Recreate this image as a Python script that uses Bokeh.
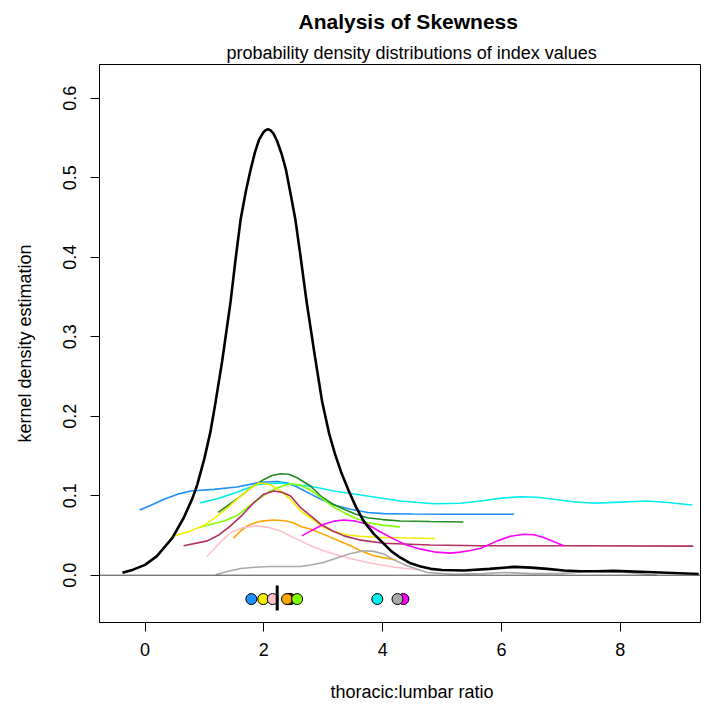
from bokeh.plotting import figure
from bokeh.models import Range1d, FixedTicker, Span, PrintfTickFormatter, Title, LinearAxis
from bokeh.embed import file_html
from bokeh.resources import INLINE

# ---------------- data ----------------
title = "Analysis of Skewness"
subtitle = "probability density distributions of index values"
x_label = "thoracic:lumbar ratio"
y_label = "kernel density estimation"
x_ticks = [0, 2, 4, 6, 8]
y_ticks = [0.0, 0.1, 0.2, 0.3, 0.4, 0.5, 0.6]

main_x = [-0.38, -0.2, 0.0, 0.2, 0.46, 0.65, 0.8, 0.88, 1.0, 1.1, 1.19, 1.3, 1.44, 1.52,
          1.61, 1.7, 1.78, 1.85, 1.92, 1.99, 2.03, 2.07, 2.11, 2.16, 2.22, 2.3, 2.37, 2.45,
          2.53, 2.62, 2.72, 2.85, 2.98, 3.1, 3.2, 3.3, 3.43, 3.55, 3.68, 3.85, 4.0, 4.15,
          4.3, 4.47, 4.64, 4.81, 5.0, 5.37, 5.8, 6.21, 6.5, 6.77, 7.05, 7.33, 7.6, 7.89,
          8.45, 9.32]
main_y = [0.003, 0.007, 0.013, 0.024, 0.047, 0.072, 0.097, 0.114, 0.147, 0.18, 0.219, 0.27,
          0.344, 0.395, 0.448, 0.484, 0.511, 0.532, 0.548, 0.557, 0.56, 0.561, 0.56, 0.556,
          0.547, 0.53, 0.511, 0.48, 0.448, 0.40, 0.344, 0.28, 0.219, 0.178, 0.152, 0.13,
          0.106, 0.086, 0.068, 0.052, 0.041, 0.03, 0.022, 0.015, 0.011, 0.008, 0.0065,
          0.006, 0.008, 0.0105, 0.0095, 0.008, 0.006, 0.005, 0.005, 0.0055, 0.004, 0.0015]

names = ["dodgerblue", "cyan", "forestgreen", "chartreuse", "yellow", "maroon",
         "orange", "pink", "magenta", "darkgray"]
colors = ["#1E90FF", "#00EEEE", "#228B22", "#7FFF00", "#F2EE00", "#B03060",
          "#FFA500", "#FFC0CB", "#FF00FF", "#A9A9A9"]

blue_x = [-0.09, 0.1, 0.32, 0.55, 0.77, 1.16, 1.55, 1.94, 2.22, 2.4, 2.56, 2.79, 2.96, 3.2, 3.46, 3.75, 4.02, 4.5, 5.0, 5.65, 6.21]
blue_y = [0.082, 0.088, 0.0955, 0.102, 0.106, 0.108, 0.111, 0.117, 0.118, 0.116, 0.111, 0.102, 0.0955, 0.088, 0.083, 0.079, 0.0775, 0.077, 0.0767, 0.0767, 0.0767]
cyan_x = [0.93, 1.2, 1.44, 1.89, 2.28, 2.62, 2.79, 3.18, 3.74, 4.30, 4.86, 5.3, 5.65, 6.0, 6.32, 6.6, 6.88, 7.2, 7.56, 8.0, 8.45, 8.8, 9.21]
cyan_y = [0.091, 0.096, 0.1017, 0.114, 0.116, 0.113, 0.112, 0.106, 0.0996, 0.0934, 0.090, 0.0905, 0.0934, 0.097, 0.0988, 0.098, 0.0955, 0.0925, 0.0905, 0.092, 0.0934, 0.0915, 0.0883]
fgreen_x = [1.23, 1.42, 1.61, 1.8, 2.0, 2.14, 2.28, 2.42, 2.56, 2.79, 2.96, 3.15, 3.35, 3.54, 3.74, 4.0, 4.30, 4.8, 5.36]
fgreen_y = [0.079, 0.089, 0.0996, 0.111, 0.1205, 0.1255, 0.1276, 0.127, 0.1226, 0.112, 0.0996, 0.09, 0.083, 0.077, 0.0724, 0.07, 0.0683, 0.0675, 0.067]
chart_x = [0.91, 1.33, 1.55, 1.72, 1.92, 2.11, 2.3, 2.45, 2.62, 2.79, 2.96, 3.15, 3.35, 3.54, 3.74, 4.0, 4.29]
chart_y = [0.060, 0.0683, 0.075, 0.085, 0.096, 0.106, 0.112, 0.115, 0.113, 0.107, 0.0975, 0.087, 0.0787, 0.072, 0.066, 0.063, 0.0608]
yellow_x = [0.44, 0.77, 1.0, 1.22, 1.42, 1.61, 1.78, 1.92, 2.11, 2.28, 2.45, 2.62, 2.79, 2.96, 3.15, 3.35, 3.6, 4.02, 4.88]
yellow_y = [0.048, 0.0558, 0.063, 0.0746, 0.087, 0.0996, 0.11, 0.116, 0.114, 0.106, 0.0955, 0.0808, 0.072, 0.062, 0.056, 0.0516, 0.049, 0.0474, 0.0461]
maroon_x = [0.65, 1.05, 1.25, 1.44, 1.64, 1.83, 2.0, 2.17, 2.32, 2.45, 2.62, 2.79, 2.96, 3.15, 3.35, 3.6, 4.02, 4.8, 5.65, 7.16, 9.23]
maroon_y = [0.037, 0.0432, 0.051, 0.062, 0.076, 0.0912, 0.102, 0.106, 0.104, 0.0996, 0.085, 0.0746, 0.0641, 0.056, 0.0495, 0.0445, 0.0403, 0.038, 0.037, 0.037, 0.0366]
orange_x = [1.49, 1.6, 1.72, 1.85, 1.95, 2.17, 2.35, 2.5, 2.62, 2.79, 3.07, 3.27, 3.46, 3.65, 3.85, 4.23]
orange_y = [0.0466, 0.055, 0.062, 0.066, 0.068, 0.0695, 0.0685, 0.066, 0.0612, 0.0579, 0.0495, 0.043, 0.037, 0.03, 0.0244, 0.019]
pink_x = [1.04, 1.25, 1.44, 1.65, 1.89, 2.08, 2.28, 2.45, 2.62, 2.79, 3.0, 3.18, 3.45, 3.74, 4.2, 4.64]
pink_y = [0.0236, 0.04, 0.0537, 0.06, 0.062, 0.06, 0.0558, 0.049, 0.0432, 0.037, 0.031, 0.0266, 0.021, 0.016, 0.010, 0.0065]
magenta_x = [2.64, 2.82, 3.01, 3.18, 3.35, 3.55, 3.74, 3.95, 4.19, 4.4, 4.64, 4.9, 5.14, 5.3, 5.48, 5.65, 5.93, 6.15, 6.38, 6.55, 6.71, 7.05]
magenta_y = [0.0495, 0.057, 0.0641, 0.068, 0.0695, 0.068, 0.0641, 0.055, 0.0454, 0.038, 0.0328, 0.029, 0.0278, 0.029, 0.031, 0.034, 0.0432, 0.049, 0.0516, 0.051, 0.0474, 0.037]
gray_x = [1.19, 1.4, 1.61, 1.85, 2.11, 2.4, 2.62, 2.79, 3.0, 3.18, 3.45, 3.68, 3.85, 4.02, 4.2, 4.41, 4.75, 5.2, 5.7, 6.04, 6.5, 7.0, 7.5, 8.0, 8.62]
gray_y = [0.0006, 0.005, 0.0085, 0.010, 0.011, 0.011, 0.011, 0.0128, 0.016, 0.0203, 0.027, 0.0307, 0.03, 0.0266, 0.019, 0.0119, 0.0035, 0.001, 0.002, 0.0035, 0.002, 0.002, 0.005, 0.004, 0.0]

curves_x = [blue_x, cyan_x, fgreen_x, chart_x, yellow_x, maroon_x, orange_x, pink_x, magenta_x, gray_x]
curves_y = [blue_y, cyan_y, fgreen_y, chart_y, yellow_y, maroon_y, orange_y, pink_y, magenta_y, gray_y]

# index centre points (drawn in this order; later ones on top)
point_names = ["magenta", "forestgreen", "maroon", "dodgerblue", "yellow", "pink",
               "orange", "chartreuse", "cyan", "darkgray"]
point_x = [4.35, 2.45, 2.42, 1.79, 1.99, 2.15, 2.39, 2.56, 3.91, 4.25]
point_y = -0.03
median_x = 2.225
median_y0, median_y1 = -0.013, -0.0445

FONT = "Liberation Sans"

p = figure(width=712, height=706, output_backend="svg", toolbar_location=None,
           x_range=Range1d(-0.766, 9.35), y_range=Range1d(-0.0595, 0.6426),
           min_border_left=99, min_border_right=12, min_border_top=61,
           min_border_bottom=84)
p.title.visible = False
p.grid.visible = False
p.outline_line_color = "black"
p.outline_line_width = 1
p.outline_line_alpha = 1.0
p.background_fill_color = "white"
p.border_fill_color = "white"

for ax in (p.xaxis[0], p.yaxis[0]):
    ax.axis_line_color = "black"
    ax.major_tick_line_color = "black"
    ax.major_tick_in = 0
    ax.major_tick_out = 9
    ax.minor_tick_line_color = None
    ax.major_label_text_font = FONT
    ax.major_label_text_font_size = "18px"
    ax.major_label_text_color = "black"
p.xaxis.ticker = FixedTicker(ticks=x_ticks)
p.yaxis.ticker = FixedTicker(ticks=y_ticks)
p.yaxis.formatter = PrintfTickFormatter(format="%.1f")
p.yaxis.major_label_orientation = "vertical"
p.xaxis.major_label_standoff = 11
p.yaxis.major_label_standoff = 14
p.yaxis.axis_label = y_label
p.yaxis.axis_label_text_font = FONT
p.yaxis.axis_label_text_font_size = "18px"
p.yaxis.axis_label_text_font_style = "normal"
p.yaxis.axis_label_text_color = "black"
p.yaxis.axis_label_standoff = 26

# blank spacer axis (white tick on white border, empty label) that pushes the
# x-axis title further down, as in the reference
spacer = LinearAxis(ticker=FixedTicker(ticks=[4]), axis_line_color=None,
                    major_tick_line_color="white", minor_tick_line_color=None,
                    major_tick_in=0, major_tick_out=20, major_label_standoff=0,
                    major_label_overrides={4: ""}, major_label_text_font_size="1px")
p.add_layout(spacer, "below")

p.add_layout(Span(location=0, dimension="width", line_color="#444444", line_width=1))

for xs, ys, c in zip(curves_x, curves_y, colors):
    p.line(xs, ys, line_color=c, line_width=1.6)

p.line(main_x, main_y, line_color="black", line_width=2.6)

cmap = dict(zip(names, colors))
for nm, px in zip(point_names, point_x):
    p.scatter([px], [point_y], marker="circle", size=11, fill_color=cmap[nm],
              line_color="black", line_width=1)
p.segment(x0=[median_x], y0=[median_y0], x1=[median_x], y1=[median_y1],
          line_color="black", line_width=3)

# titles (closest to the frame first)
p.add_layout(Title(text=subtitle, align="left", offset=127, standoff=3,
                   text_font=FONT, text_font_size="18px", text_font_style="normal",
                   text_color="black"), "above")
p.add_layout(Title(text=title, align="left", offset=199, standoff=14,
                   text_font=FONT, text_font_size="21px", text_font_style="bold",
                   text_color="black"), "above")
p.add_layout(Title(text=x_label, align="left", offset=231, standoff=2,
                   vertical_align="bottom", text_baseline="top",
                   text_font=FONT, text_font_size="18px", text_font_style="normal",
                   text_color="black"), "below")

open("out.html", "w").write(file_html(p, INLINE))
